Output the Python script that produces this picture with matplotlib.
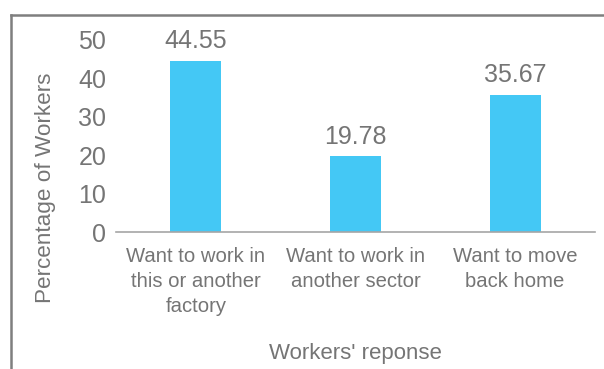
import matplotlib
matplotlib.use('Agg')
import matplotlib.pyplot as plt
from matplotlib.lines import Line2D

categories = ["Want to work in\nthis or another\nfactory",
              "Want to work in\nanother sector",
              "Want to move\nback home"]
values = [44.55, 19.78, 35.67]
yticks = [0, 10, 20, 30, 40, 50]

text_grey = '#757575'
plt.rcParams['font.family'] = ['Liberation Sans', 'DejaVu Sans']

fig = plt.figure(figsize=(6.04, 3.69), dpi=100)
ax = fig.add_axes([0.192, 0.371, 0.793, 0.521])

x = range(len(categories))
ax.bar(x, values, width=0.32, color='#44c8f5')
for xi, v in zip(x, values):
    ax.annotate(f"{v:.2f}", (xi, v), xytext=(0, 9), textcoords='offset points',
                ha='center', va='baseline', fontsize=18, color=text_grey)

ax.set_xlim(-0.5, 2.5)
ax.set_ylim(0, 50)
ax.set_yticks(yticks)
ax.set_xticks(list(x))
ax.set_xticklabels(categories, fontsize=14.6, color=text_grey, linespacing=1.38)
ax.tick_params(axis='y', labelsize=18, colors=text_grey, length=0, pad=7)
ax.tick_params(axis='x', length=0, pad=11)
for s in ['top', 'right', 'left']:
    ax.spines[s].set_visible(False)
ax.spines['bottom'].set_color('#a6a6a6')
ax.spines['bottom'].set_linewidth(1.2)

ax.set_ylabel("Percentage of Workers", fontsize=16.2, color=text_grey)
ax.yaxis.set_label_coords(-0.125, 0.23)
fig.text(0.589, 0.042, "Workers' reponse", fontsize=16, color=text_grey,
         ha='center', va='center')

# outer frame on top and left
fig.add_artist(Line2D([0.0175, 1.0], [0.959, 0.959], color='#7f7f7f', lw=1.8))
fig.add_artist(Line2D([0.0175, 0.0175], [0.0, 0.959], color='#7f7f7f', lw=1.8))

fig.savefig("out.png", dpi=100)
